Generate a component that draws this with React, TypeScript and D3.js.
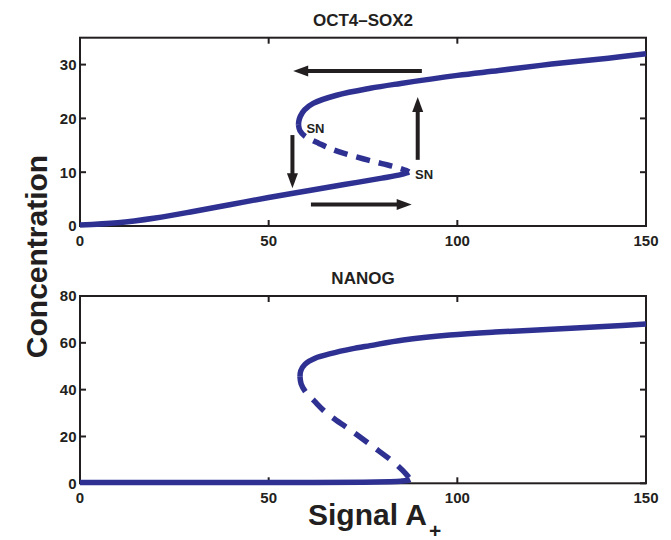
import React from "react";
import * as d3 from "d3";

// ---- data ----
const xTicks = [0, 50, 100, 150];
const topYTicks = [0, 10, 20, 30];
const botYTicks = [0, 20, 40, 60, 80];

// OCT4-SOX2 branches
const octLowX = [0, 10, 20, 30, 40, 50, 60, 70, 80, 85, 86.5, 87.2];
const octLowY = [0.2, 0.6, 1.5, 2.7, 4.0, 5.3, 6.5, 7.7, 8.9, 9.55, 9.85, 10.05];
const octMidX = [57.9, 58.3, 59.6, 61.4, 63.2, 66.7, 70, 75, 80, 84, 86.5, 87.2];
const octMidY = [18.8, 17.7, 16.7, 16.0, 15.4, 14.3, 13.5, 12.5, 11.6, 10.9, 10.3, 10.05];
const octHighX = [57.9, 58.0, 58.4, 59.5, 61.8, 68, 76.9, 85, 100, 111, 125, 140, 150];
const octHighY = [18.8, 19.5, 20.4, 21.6, 22.8, 24.3, 25.6, 26.5, 28.0, 28.9, 30.1, 31.2, 32.0];

// NANOG branches
const nanLowX = [0, 20, 40, 60, 75, 82, 85, 86.8, 87.5];
const nanLowY = [0.3, 0.3, 0.3, 0.35, 0.5, 0.7, 0.9, 1.2, 1.6];
const nanMidX = [58.3, 58.6, 59.8, 62, 65.4, 71.6, 77.7, 83.5, 85.5, 86.9, 87.5];
const nanMidY = [45.5, 42.5, 39.0, 35.3, 29.9, 22.8, 15.6, 8.5, 5.5, 3.0, 1.6];
const nanHighX = [58.3, 58.5, 59.6, 62.3, 66.7, 72, 76.9, 85.7, 98, 110, 125, 140, 150];
const nanHighY = [45.5, 48.0, 50.8, 53.4, 55.5, 57.4, 58.8, 61.2, 63.3, 64.6, 65.8, 67.1, 68.0];

// hysteresis arrows (top panel, data coords)
const arrowX1 = [90.6, 89.5, 56.3, 61.2];
const arrowY1 = [28.8, 12.3, 16.9, 4.0];
const arrowX2 = [56.5, 89.5, 56.3, 87.9];
const arrowY2 = [28.8, 24.0, 7.0, 4.0];

// SN labels
const snX = [60.0, 88.8];
const snY = [17.2, 8.7];

const BLUE = "#2E3192";
const INK = "#231F20";
const FONT = "'Liberation Sans', Arial, Helvetica, sans-serif";

const zip = (xs: number[], ys: number[]) => xs.map((x, i) => [x, ys[i]] as [number, number]);

export default function App() {
  const x = d3.scaleLinear().domain([0, 150]).range([80, 646]);
  const yTop = d3.scaleLinear().domain([0, 35]).range([226, 37.7]);
  const yBot = d3.scaleLinear().domain([0, 80]).range([483.3, 296]);

  const mkLine = (y: d3.ScaleLinear<number, number>) =>
    d3
      .line<[number, number]>()
      .x((d) => x(d[0]))
      .y((d) => y(d[1]))
      .curve(d3.curveCatmullRom.alpha(0.5));

  const lt = mkLine(yTop);
  const lb = mkLine(yBot);

  const axes = (y: d3.ScaleLinear<number, number>, yt: number[], key: string) => {
    const [x0, x1] = x.range();
    const [y0, y1] = y.range();
    const tl = 6;
    return (
      <g key={key}>
        <rect x={x0} y={y1} width={x1 - x0} height={y0 - y1} fill="none" stroke={INK} strokeWidth={2} />
        {xTicks.map((t) => (
          <g key={"x" + t}>
            <line x1={x(t)} x2={x(t)} y1={y0} y2={y0 - tl} stroke={INK} strokeWidth={2} />
            <line x1={x(t)} x2={x(t)} y1={y1} y2={y1 + tl} stroke={INK} strokeWidth={2} />
            <text x={x(t)} y={y0 + 19.5} textAnchor="middle" fontSize={15} fontWeight="bold" fontFamily={FONT} fill={INK}>
              {t}
            </text>
          </g>
        ))}
        {yt.map((t) => (
          <g key={"y" + t}>
            <line x1={x0} x2={x0 + tl} y1={y(t)} y2={y(t)} stroke={INK} strokeWidth={2} />
            <line x1={x1} x2={x1 - tl} y1={y(t)} y2={y(t)} stroke={INK} strokeWidth={2} />
            <text x={76.5} y={y(t) + 5.4} textAnchor="end" fontSize={15} fontWeight="bold" fontFamily={FONT} fill={INK}>
              {t}
            </text>
          </g>
        ))}
      </g>
    );
  };

  const arrow = (i: number) => {
    const px1 = x(arrowX1[i]);
    const py1 = yTop(arrowY1[i]);
    const px2 = x(arrowX2[i]);
    const py2 = yTop(arrowY2[i]);
    const dx = px2 - px1;
    const dy = py2 - py1;
    const len = Math.hypot(dx, dy);
    const ux = dx / len;
    const uy = dy / len;
    const hl = 15;
    const hw = 5.5;
    const bx = px2 - ux * hl;
    const by = py2 - uy * hl;
    const pts = [
      [px2, py2],
      [bx - uy * hw, by + ux * hw],
      [bx + uy * hw, by - ux * hw],
    ];
    return (
      <g key={"a" + i}>
        <line x1={px1} y1={py1} x2={bx + ux * 1} y2={by + uy * 1} stroke={INK} strokeWidth={4} />
        <polygon points={pts.map((p) => p.join(",")).join(" ")} fill={INK} />
      </g>
    );
  };

  const lineProps = { fill: "none", stroke: BLUE, strokeWidth: 5.5, strokeLinecap: "butt" as const, strokeLinejoin: "round" as const };

  return (
    <svg width={671} height={540} style={{ position: "absolute", left: 0, top: 0, background: "#fff" }} fontFamily={FONT}>
      {axes(yTop, topYTicks, "top")}
      {axes(yBot, botYTicks, "bot")}

      {/* top panel curves */}
      <path d={lt(zip(octLowX, octLowY)) || ""} {...lineProps} />
      <path d={lt(zip(octHighX, octHighY)) || ""} {...lineProps} />
      <path d={lt(zip(octMidX, octMidY)) || ""} {...lineProps} strokeDasharray="14,9" />

      {/* bottom panel curves */}
      <path d={lb(zip(nanLowX, nanLowY)) || ""} {...lineProps} />
      <path d={lb(zip(nanHighX, nanHighY)) || ""} {...lineProps} />
      <path d={lb(zip(nanMidX, nanMidY)) || ""} {...lineProps} strokeDasharray="16,11" />

      {arrowX1.map((_, i) => arrow(i))}

      {snX.map((sx, i) => (
        <text key={"sn" + i} x={x(sx)} y={yTop(snY[i])} fontSize={13} fontWeight="bold" fill={INK}>
          SN
        </text>
      ))}

      <text x={363} y={26} textAnchor="middle" fontSize={17} fontWeight="bold" fill={INK}>
        OCT4–SOX2
      </text>
      <text x={363} y={284} textAnchor="middle" fontSize={17} fontWeight="bold" fill={INK}>
        NANOG
      </text>

      <text transform="translate(46.5,256.5) rotate(-90)" textAnchor="middle" fontSize={30} fontWeight="bold" fill={INK}>
        Concentration
      </text>
      <text x={308} y={525} fontSize={30} fontWeight="bold" fill={INK}>
        Signal A
      </text>
      <text x={429} y={537.5} fontSize={21} fontWeight="bold" fill={INK}>
        +
      </text>
    </svg>
  );
}
